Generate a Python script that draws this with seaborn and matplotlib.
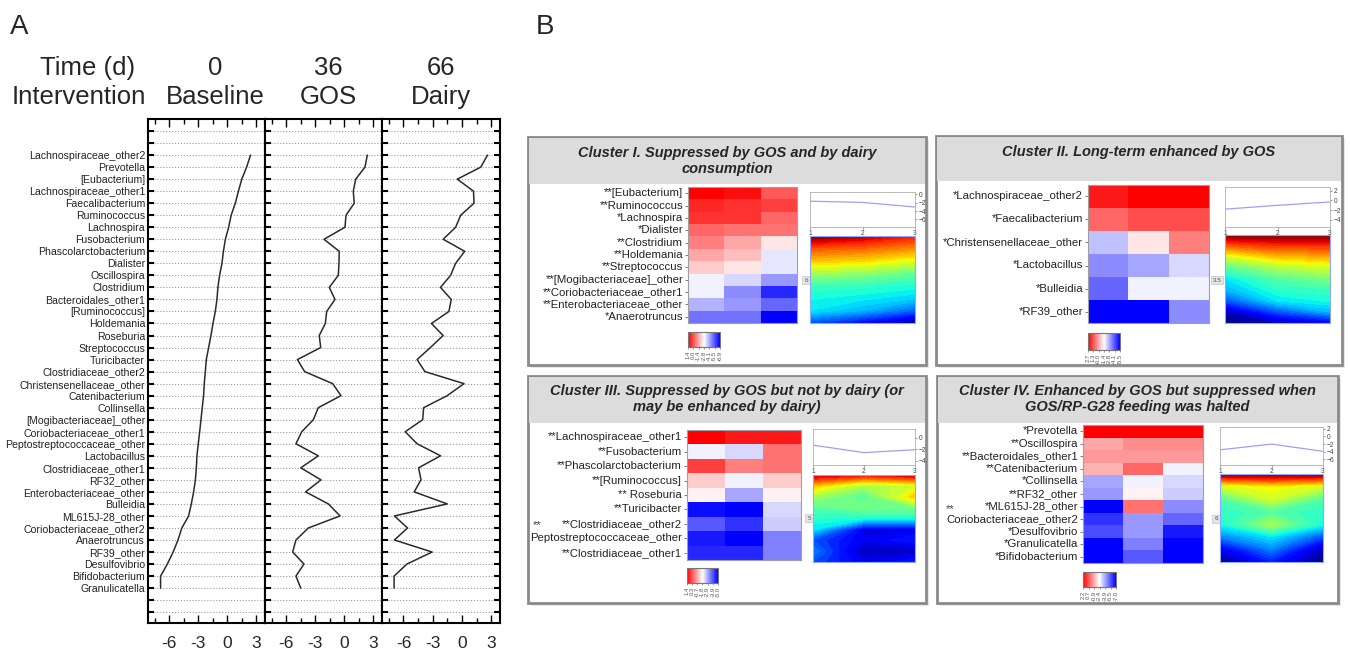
import numpy as np
import pandas as pd
import matplotlib
matplotlib.use("Agg")
import matplotlib.pyplot as plt
import seaborn as sns
from matplotlib import font_manager
from matplotlib.patches import Rectangle

sns.set_theme(style="white")
names = {f.name for f in font_manager.fontManager.ttflist}
NARROW = "Liberation Sans Narrow" if "Liberation Sans Narrow" in names else "Liberation Sans"
plt.rcParams["font.family"] = ["Liberation Sans", "DejaVu Sans"]

# ---------------- panel A data (log abundance) ----------------
taxa = ["Lachnospiraceae_other2", "Prevotella", "[Eubacterium]", "Lachnospiraceae_other1",
        "Faecalibacterium", "Ruminococcus", "Lachnospira", "Fusobacterium",
        "Phascolarctobacterium", "Dialister", "Oscillospira", "Clostridium",
        "Bacteroidales_other1", "[Ruminococcus]", "Holdemania", "Roseburia",
        "Streptococcus", "Turicibacter", "Clostridiaceae_other2", "Christensenellaceae_other",
        "Catenibacterium", "Collinsella", "[Mogibacteriaceae]_other", "Coriobacteriaceae_other1",
        "Peptostreptococcaceae_other", "Lactobacillus", "Clostridiaceae_other1", "RF32_other",
        "Enterobacteriaceae_other", "Bulleidia", "ML615J-28_other", "Coriobacteriaceae_other2",
        "Anaerotruncus", "RF39_other", "Desulfovibrio", "Bifidobacterium", "Granulicatella"]
baseline = [2.4, 2.0, 1.5, 1.15, 0.83, 0.4, 0.14, -0.2, -0.4, -0.55,
            -0.8, -0.97, -1.07, -1.24, -1.48, -1.69, -1.93, -2.17, -2.27, -2.38,
            -2.45, -2.59, -2.72, -2.86, -3.0, -3.14, -3.2, -3.3, -3.48, -3.72,
            -4.0, -4.7, -5.1, -5.6, -6.2, -6.9, -6.9]
gos = [2.38, 2.14, 1.18, 0.93, 1.03, 0.18, 0.07, -2.1, -0.52, -0.55,
       -0.62, -1.55, -0.96, -1.82, -1.96, -2.59, -2.44, -4.85, -4.1, -1.2,
       -0.34, -2.69, -3.2, -4.4, -5.0, -2.69, -4.5, -2.41, -4.0, -1.65,
       -0.44, -3.72, -5.0, -5.34, -4.17, -5.0, -4.5]
dairy = [2.62, 1.93, -0.48, 1.18, 1.24, -0.13, -0.65, -1.93, 0.28, -0.65,
         -1.17, -2.2, -1.1, -1.34, -3.13, -1.93, -3.24, -4.6, -3.8, 0.21,
         -1.51, -3.93, -4.03, -5.82, -4.6, -2.2, -4.45, -4.2, -4.9, -1.51,
         -6.93, -5.58, -6.93, -3.06, -5.65, -6.96, -6.96]
time_days = ["0", "36", "66"]
interventions = ["Baseline", "GOS", "Dairy"]

# ---------------- panel B data (heatmap scores, -1 = blue, +1 = red) ----------------
c1_labels = ["**[Eubacterium]", "**Ruminococcus", "*Lachnospira", "*Dialister", "**Clostridium",
             "**Holdemania", "**Streptococcus", "**[Mogibacteriaceae]_other",
             "**Coriobacteriaceae_other1", "**Enterobacteriaceae_other", "*Anaerotruncus"]
c1_scores = [[1.0, 0.95, 0.65], [0.85, 0.8, 0.75], [0.8, 0.8, 0.6], [0.6, 0.55, 0.55],
             [0.5, 0.35, 0.1], [0.35, 0.25, -0.1], [0.2, 0.1, -0.1], [-0.05, -0.15, -0.4],
             [-0.05, -0.45, -0.85], [-0.3, -0.4, -0.6], [-0.55, -0.55, -1.0]]
c2_labels = ["*Lachnospiraceae_other2", "*Faecalibacterium", "*Christensenellaceae_other",
             "*Lactobacillus", "*Bulleidia", "*RF39_other"]
c2_scores = [[0.9, 1.0, 1.0], [0.6, 0.7, 0.7], [-0.25, 0.1, 0.5],
             [-0.45, -0.35, -0.15], [-0.6, -0.05, -0.05], [-1.0, -1.0, -0.45]]
c3_labels = ["**Lachnospiraceae_other1", "**Fusobacterium", "**Phascolarctobacterium",
             "**[Ruminococcus]", "** Roseburia", "**Turicibacter", "**Clostridiaceae_other2",
             "Peptostreptococcaceae_other", "**Clostridiaceae_other1"]
c3_scores = [[1.0, 0.9, 0.9], [-0.05, -0.15, 0.55], [0.75, 0.5, 0.55], [0.2, -0.05, 0.2],
             [0.05, -0.35, 0.05], [-0.95, -1.0, -0.15], [-0.65, -0.8, -0.2],
             [-0.9, -1.0, -0.5], [-0.85, -0.85, -0.5]]
c4_labels = ["*Prevotella", "**Oscillospira", "**Bacteroidales_other1", "**Catenibacterium",
             "*Collinsella", "**RF32_other", "*ML615J-28_other", "Coriobacteriaceae_other2",
             "*Desulfovibrio", "*Granulicatella", "*Bifidobacterium"]
c4_scores = [[1.0, 1.0, 1.0], [0.35, 0.45, 0.45], [0.4, 0.4, 0.4], [0.3, 0.6, -0.05],
             [-0.35, -0.05, -0.15], [-0.4, 0.05, -0.2], [-1.0, 0.55, -0.45],
             [-0.8, -0.4, -0.6], [-0.7, -0.4, -0.9], [-1.0, -0.5, -1.0], [-1.0, -0.65, -1.0]]
# significance marks that sit above a long label (cluster III and IV)
raised_marks = [(537, 525, "**"), (950, 509, "**")]

titles = ["Cluster I. Suppressed by GOS and by dairy\nconsumption",
          "Cluster II. Long-term enhanced by GOS",
          "Cluster III. Suppressed by GOS but not by dairy (or\nmay be enhanced by dairy)",
          "Cluster IV. Enhanced by GOS but suppressed when\nGOS/RP-G28 feeding was halted"]
cbar_ranges = [(1.4, -6.9), (2.7, -5.5), (1.4, -5.0), (2.2, -7.0)]
trend_x = [1, 2, 3]
trends = [[-1.6, -1.9, -3.0], [-1.8, -1.0, -0.3], [-1.3, -2.6, -2.1], [-3.5, -2.0, -3.9]]
trend_yticks = [[0, -2, -4, -6], [2, 0, -2, -4], [0, -2, -4], [2, 0, -2, -4, -6]]
trend_ylims = [(-7.8, 0.6), (-5.5, 2.8), (-4.75, 1.5), (-7.5, 2.5)]
kernel_tags = ["6", "3.5", "5", "6"]
# density surfaces (0 = blue .. 1 = red), rows top -> bottom, columns = time 1..3
k1 = [[1.0, 0.95, 0.88], [0.82, 0.8, 0.76], [0.7, 0.68, 0.62], [0.55, 0.52, 0.47],
      [0.42, 0.41, 0.39], [0.38, 0.36, 0.33], [0.35, 0.3, 0.22], [0.2, 0.12, 0.02]]
k2 = [[1.0, 1.0, 1.0], [0.8, 0.85, 0.85], [0.6, 0.7, 0.72], [0.45, 0.55, 0.6],
      [0.35, 0.45, 0.5], [0.3, 0.4, 0.42], [0.2, 0.35, 0.38], [0.05, 0.2, 0.3], [0.0, 0.05, 0.1]]
k3 = [[0.95, 0.9, 0.95], [0.7, 0.55, 0.6], [0.55, 0.45, 0.7], [0.45, 0.5, 0.5],
      [0.4, 0.38, 0.38], [0.35, 0.1, 0.1], [0.2, 0.1, 0.15], [0.25, 0.05, 0.05], [0.2, 0.1, 0.15]]
k4 = [[1.0, 1.0, 1.0], [0.6, 0.65, 0.6], [0.45, 0.6, 0.45], [0.4, 0.45, 0.4],
      [0.38, 0.55, 0.38], [0.25, 0.35, 0.2], [0.1, 0.25, 0.05], [0.0, 0.15, 0.0]]

W, H = 1350, 654
fig = plt.figure(figsize=(13.5, 6.54), dpi=100)


def px_axes(x0, y0, x1, y1):
    return fig.add_axes([x0 / W, 1 - y1 / H, (x1 - x0) / W, (y1 - y0) / H])


bg = fig.add_axes([0, 0, 1, 1], zorder=-1)
bg.set_xlim(0, W)
bg.set_ylim(H, 0)
bg.axis("off")

# ---------------- panel A ----------------
bg.text(19, 27, "A", fontsize=20, ha="center", va="center")
bg.text(88, 68, "Time (d)", fontsize=18.5, ha="center", va="center")
bg.text(79, 97, "Intervention", fontsize=18.5, ha="center", va="center")

df = pd.DataFrame({"taxon": taxa, "pos": range(len(taxa)),
                   "Baseline": baseline, "GOS": gos, "Dairy": dairy})
edges = [(148, 265), (265, 382), (382, 500)]
header_x = [215, 328, 441]
for i, (x0, x1) in enumerate(edges):
    ax = px_axes(x0, 119, x1, 623)
    name = interventions[i]
    sns.lineplot(data=df, x=name, y="pos", orient="y", estimator=None,
                 color="#2b2b2b", lw=1.1, ax=ax)
    ax.set_xlim(-8.2, 3.9)
    ax.set_ylim(38.9, -3)
    ax.set_yticks(range(len(taxa)))
    ax.set_yticks([-2, -1, 37, 38], minor=True)
    ax.grid(True, axis="y", which="both", ls=":", color="#9a9a9a", lw=0.8)
    ax.grid(False, axis="x")
    ax.set_xticks([-6, -3, 0, 3])
    ax.set_xticks([-7.5, -4.5, -1.5, 1.5], minor=True)
    ax.set_xticklabels(["-6", "-3", "0", "3"], family=NARROW, fontsize=12.5)
    ax.tick_params(axis="x", which="major", direction="in", top=True, bottom=True,
                   length=6, width=1.0, pad=9, color="black")
    ax.tick_params(axis="x", which="minor", direction="in", top=True, bottom=True,
                   length=3.5, width=1.0, color="black")
    ax.tick_params(axis="y", which="both", direction="in", left=True, right=(i == 2),
                   length=4, width=1.5, pad=2, color="black")
    if i == 0:
        ax.set_yticklabels(taxa, family=NARROW, fontsize=7.6, color="#222222")
    else:
        ax.set_yticklabels([])
    ax.set_xlabel("")
    ax.set_ylabel("")
    for sp in ax.spines.values():
        sp.set_color("black")
        sp.set_linewidth(1.5)
    bg.text(header_x[i], 68, time_days[i], fontsize=18.5, ha="center", va="center")
    bg.text(header_x[i], 97, interventions[i], fontsize=18.5, ha="center", va="center")

# ---------------- panel B ----------------
bg.text(545, 27, "B", fontsize=20, ha="center", va="center")

boxes = [(528, 137, 926, 365, 183), (936, 136, 1342, 365, 180),
         (528, 376, 926, 603, 422), (937, 376, 1338, 603, 422)]
title_y = [161, 152, 399, 399]
heat_px = [(688, 187, 797, 323), (1088, 185, 1209, 323), (687, 430, 801, 560), (1083, 425, 1203, 563)]
line_px = [(810, 192, 915, 227), (1225, 187, 1330, 227), (813, 429, 915, 465), (1220, 427, 1323, 465)]
kern_px = [(810, 236, 915, 323), (1225, 235, 1330, 323), (813, 475, 915, 562), (1220, 474, 1323, 562)]
cbar_px = [(688, 332, 720, 347), (1088, 333, 1120, 350), (687, 568, 718, 583), (1083, 572, 1116, 587)]
tag_px = [(806, 280), (1217, 280), (809, 518), (1216, 519)]

labels_all = [c1_labels, c2_labels, c3_labels, c4_labels]
scores_all = [c1_scores, c2_scores, c3_scores, c4_scores]
kernels = [k1, k2, k3, k4]

for k in range(4):
    x0, y0, x1, y1, band = boxes[k]
    bg.add_patch(Rectangle((x0 + 3, y0 + 3), x1 - x0, y1 - y0, facecolor="#e6e6e6",
                           edgecolor="none", zorder=0))
    bg.add_patch(Rectangle((x0, y0), x1 - x0, y1 - y0, facecolor="white",
                           edgecolor="#8a8a8a", lw=2, zorder=1))
    bg.add_patch(Rectangle((x0 + 1, y0 + 1), x1 - x0 - 2, band - y0, facecolor="#dcdcdc",
                           edgecolor="none", zorder=2))
    bg.text((x0 + x1) / 2, title_y[k], titles[k], fontsize=10.5, fontweight="bold",
            fontstyle="italic", ha="center", va="center", linespacing=1.2, zorder=3)

    # heatmap + its colour key
    hax = px_axes(*heat_px[k])
    cax = px_axes(*cbar_px[k])
    hdf = pd.DataFrame(scores_all[k], index=labels_all[k], columns=interventions)
    sns.heatmap(hdf, cmap="bwr", vmin=-1, vmax=1, ax=hax, cbar_ax=cax,
                cbar_kws={"orientation": "horizontal"}, xticklabels=False, yticklabels=True)
    hax.set_yticklabels(labels_all[k], rotation=0, fontsize=8.2, color="#222222")
    hax.tick_params(axis="y", left=True, length=2.5, width=0.6, pad=1, color="#666666")
    hax.set_xlabel("")
    hax.set_ylabel("")
    for sp in hax.spines.values():
        sp.set_visible(True)
        sp.set_color("#a0a0a0")
        sp.set_linewidth(0.8)

    cbar = hax.collections[0].colorbar
    cbar.ax.invert_xaxis()
    hi, lo = cbar_ranges[k]
    cbar.set_ticks(np.linspace(1, -1, 7))
    cbar.set_ticklabels([f"{v:.1f}" for v in np.linspace(hi, lo, 7)])
    cbar.ax.tick_params(labelsize=4.2, rotation=90, length=1.5, width=0.4, pad=1,
                        colors="#555555")
    cbar.outline.set_edgecolor("#777777")
    cbar.outline.set_linewidth(0.8)

    # mean profile
    lax = px_axes(*line_px[k])
    sns.lineplot(x=trend_x, y=trends[k], color="#9f9ff5", lw=0.9, ax=lax)
    lax.set_xlim(1, 3)
    lax.set_ylim(*trend_ylims[k])
    lax.set_xticks([1, 2, 3])
    lax.set_yticks(trend_yticks[k])
    lax.yaxis.tick_right()
    lax.tick_params(axis="both", labelsize=4.8, length=1.5, width=0.4, pad=1,
                    colors="#444444")
    lax.tick_params(axis="y", right=True)
    lax.tick_params(axis="x", bottom=True)
    for sp in lax.spines.values():
        sp.set_color("#b0b0b0")
        sp.set_linewidth(0.6)

    # density surface
    kax = px_axes(*kern_px[k])
    z = np.array(kernels[k])
    rows = np.arange(z.shape[0])
    kax.contourf(trend_x, rows, z, levels=40, cmap="jet", vmin=0, vmax=1)
    kax.set_ylim(rows[-1], 0)
    kax.set_xticks([])
    kax.set_yticks([])
    for sp in kax.spines.values():
        sp.set_color("#8fa8ff")
        sp.set_linewidth(0.8)

    tx, ty = tag_px[k]
    bg.text(tx, ty, kernel_tags[k], fontsize=4.5, ha="center", va="center", color="#555555",
            bbox=dict(boxstyle="square,pad=0.3", fc="#e4e4e4", ec="#bbbbbb", lw=0.4), zorder=3)

for mx, my, mark in raised_marks:
    bg.text(mx, my, mark, fontsize=8.2, color="#444444", ha="center", va="center", zorder=3)

fig.savefig("out.png", dpi=100)
